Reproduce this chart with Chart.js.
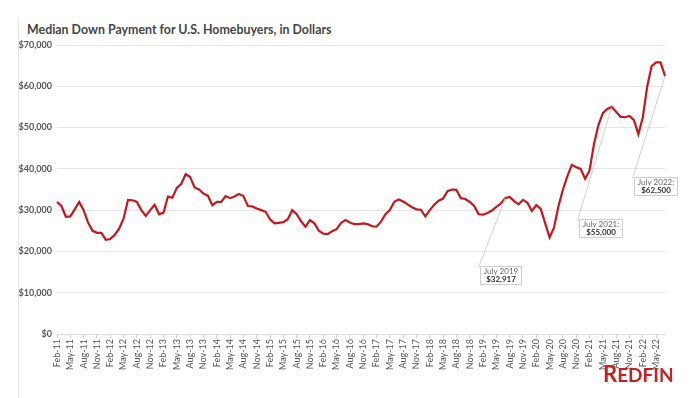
<!DOCTYPE html>
<html lang="en">
  <head>
    <meta charset="UTF-8" />
    <title>Median Down Payment for U.S. Homebuyers</title>
    <script src="https://cdn.jsdelivr.net/npm/chart.js"></script>
    <style>
      html, body { margin: 0; padding: 0; background: #fff; }
      .wrap { position: relative; width: 700px; height: 398px; overflow: hidden; }
      .frame { position: absolute; left: 18px; top: 18px; width: 1px; height: 380px; background: #e6e6e6; }
      h2 {
        position: absolute; left: 27px; top: 22px; margin: 0;
        font: 700 12.4px Lato, sans-serif; color: #454545; white-space: nowrap;
      }
      .logo {
        position: absolute; left: 603px; top: 360px;
        font: 700 19px Lato, sans-serif; color: #c82021;
      }
      .logo span { font-size: 22px; }
      canvas { position: absolute; left: 0; top: 0; }
    </style>
  </head>
  <body>
    <div class="wrap">
      <div class="frame"></div>
      <h2>Median Down Payment for U.S. Homebuyers, in Dollars</h2>
      <canvas id="grafico" width="700" height="398"></canvas>
      <div class="logo"><span>R</span>EDFIN</div>
    </div>

    <script>
      // monthly medians, Feb 2011 .. Jul 2022
      const v2011 = [32000, 31000, 28400, 28500, 30200, 32000, 30000, 27000, 25000, 24500, 24500];
      const v2012 = [22800, 23000, 24000, 25500, 28000, 32500, 32400, 32000, 30000, 28600, 30000, 31300];
      const v2013 = [29000, 29400, 33300, 33000, 35400, 36400, 38700, 38000, 35500, 35000, 34000, 33500];
      const v2014 = [31200, 32000, 32000, 33400, 32900, 33300, 33900, 33400, 31000, 30900, 30400, 30000];
      const v2015 = [29600, 27800, 26800, 26900, 27100, 27800, 30000, 29000, 27300, 26000, 27600, 26800];
      const v2016 = [25000, 24300, 24200, 24900, 25400, 26900, 27600, 27000, 26600, 26600, 26800, 26600];
      const v2017 = [26100, 26000, 27200, 29000, 30000, 32000, 32600, 32100, 31400, 30700, 30200, 30100];
      const v2018 = [28500, 30000, 31300, 32300, 32800, 34600, 35000, 34900, 32900, 32700, 32000, 31000];
      const v2019 = [29000, 28900, 29300, 29900, 30800, 31600, 32917, 33200, 32200, 31400, 32500, 31800];
      const v2020 = [29800, 31200, 30300, 26800, 23400, 25800, 31000, 35000, 38200, 41000, 40400, 40000];
      const v2021 = [37600, 39600, 46000, 50600, 53500, 54500, 55000, 53800, 52600, 52500, 52800, 51800];
      const v2022 = [48400, 52500, 60000, 64900, 65800, 65800, 62500];

      const monthNames = ["Jan", "Feb", "Mar", "Apr", "May", "Jun", "Jul", "Aug", "Sep", "Oct", "Nov", "Dec"];
      const years = ["11", "12", "13", "14", "15", "16", "17", "18", "19", "20", "21", "22"];
      const yTicks = [0, 10000, 20000, 30000, 40000, 50000, 60000, 70000];

      const callouts = [
        { label: "Jul-19", title: "July 2019", value: "$32,917" },
        { label: "Jul-21", title: "July 2021:", value: "$55,000" },
        { label: "Jul-22", title: "July 2022:", value: "$62,500" },
      ];

      const valores = [].concat(v2011, v2012, v2013, v2014, v2015, v2016,
        v2017, v2018, v2019, v2020, v2021, v2022);

      const labels = [];
      years.forEach((y) => monthNames.forEach((m) => labels.push(m + "-" + y)));
      const meses = labels.slice(1, 1 + valores.length); // series starts in Feb-11

      // box offset (px) from the data point for each callout
      const caixas = [
        { dx: -25, dy: 68 },
        { dx: -33, dy: 112 },
        { dx: -31, dy: 101 },
      ];

      const calloutPlugin = {
        id: "callouts",
        afterDatasetsDraw(chart) {
          const ctx = chart.ctx;
          const xs = chart.scales.x, ys = chart.scales.y;
          callouts.forEach((c, i) => {
            const idx = meses.indexOf(c.label);
            const px = xs.getPixelForValue(idx);
            const py = ys.getPixelForValue(valores[idx]);
            const bx = Math.round(px + caixas[i].dx) + 0.5;
            const by = Math.round(py + caixas[i].dy) + 0.5;
            ctx.save();
            ctx.font = "8px Lato, sans-serif";
            const w1 = ctx.measureText(c.title).width;
            ctx.font = "bold 8px Lato, sans-serif";
            const w2 = ctx.measureText(c.value).width;
            const w = Math.ceil(Math.max(w1, w2)) + 6;
            const h = 18;
            ctx.strokeStyle = "#c4c4c4";
            ctx.lineWidth = 0.8;
            ctx.beginPath();
            ctx.moveTo(px, py);
            ctx.lineTo(bx - 2, by + 1);
            ctx.stroke();
            ctx.fillStyle = "#fff";
            ctx.fillRect(bx, by, w, h);
            ctx.strokeStyle = "#cfcfcf";
            ctx.lineWidth = 1;
            ctx.strokeRect(bx, by, w, h);
            ctx.textAlign = "center";
            ctx.textBaseline = "middle";
            ctx.fillStyle = "#666";
            ctx.font = "8px Lato, sans-serif";
            ctx.fillText(c.title, bx + w / 2, by + 5);
            ctx.fillStyle = "#333";
            ctx.font = "bold 8px Lato, sans-serif";
            ctx.fillText(c.value, bx + w / 2, by + 13);
            ctx.restore();
          });
        },
      };

      const ctx = document.getElementById("grafico").getContext("2d");
      new Chart(ctx, {
        type: "line",
        data: {
          labels: meses,
          datasets: [
            {
              data: valores,
              borderColor: "#c8161d",
              borderWidth: 2.2,
              pointRadius: 0,
              tension: 0,
              fill: false,
            },
          ],
        },
        options: {
          responsive: false,
          animation: false,
          layout: { padding: { top: 45, right: 35, left: 0, bottom: 0 } },
          plugins: { legend: { display: false }, tooltip: { enabled: false } },
          scales: {
            x: {
              offset: false,
              afterFit: (s) => { s.height = 64; },
              grid: {
                drawOnChartArea: false,
                tickLength: 4,
                color: (c) => (c.index % 3 === 0 ? "#cfcfcf" : "rgba(0,0,0,0)"),
              },
              border: { color: "#dcdcdc" },
              ticks: {
                autoSkip: false,
                maxRotation: 90,
                minRotation: 90,
                padding: 1,
                color: "#555",
                font: { family: "Lato, sans-serif", size: 9 },
                callback: (v, i) => (i % 3 === 0 ? meses[i] : ""),
              },
            },
            y: {
              min: 0,
              max: 70000,
              afterFit: (s) => { s.width = 57; },
              afterBuildTicks: (s) => { s.ticks = yTicks.map((v) => ({ value: v })); },
              grid: { color: "#e6e6e6", drawTicks: false },
              border: { display: false },
              ticks: {
                padding: 5,
                color: "#555",
                font: { family: "Lato, sans-serif", size: 9, weight: "bold" },
                callback: (v) => "$" + v.toLocaleString("en-US"),
              },
            },
          },
        },
        plugins: [calloutPlugin],
      });
    </script>
  </body>
</html>
